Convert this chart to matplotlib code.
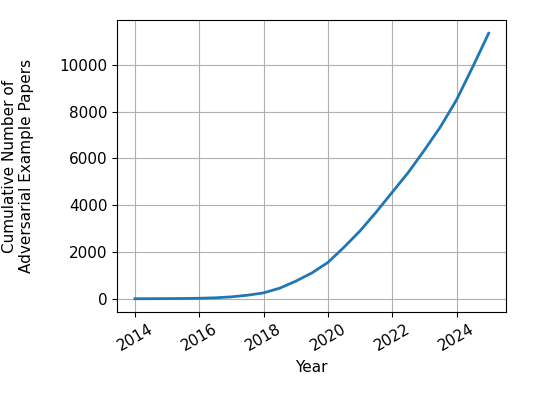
import matplotlib
matplotlib.use("Agg")
import matplotlib.pyplot as plt

# cumulative paper counts (half-year steps)
years = [2014, 2014.5, 2015, 2015.5, 2016, 2016.5, 2017, 2017.5, 2018, 2018.5,
         2019, 2019.5, 2020, 2020.5, 2021, 2021.5, 2022, 2022.5, 2023, 2023.5,
         2024, 2024.5, 2025]
papers = [0, 2, 5, 10, 20, 40, 80, 150, 250, 450,
          750, 1100, 1550, 2200, 2900, 3700, 4550, 5400, 6350, 7350,
          8500, 9900, 11350]
xticks = [2014, 2016, 2018, 2020, 2022, 2024]

plt.rcParams['font.size'] = 11
fig, ax = plt.subplots(figsize=(5.33, 4), dpi=100)
ax.plot(years, papers, color='#1f77b4', linewidth=2)
ax.set_xticks(xticks)
ax.tick_params(axis='x', labelrotation=30)
ax.set_xlabel('Year')
ax.set_ylabel('Cumulative Number of\nAdversarial Example Papers', labelpad=18)
ax.grid(True, color='#b0b0b0')
fig.subplots_adjust(left=0.22, right=0.95, top=0.95, bottom=0.22)
fig.savefig('out.png')
